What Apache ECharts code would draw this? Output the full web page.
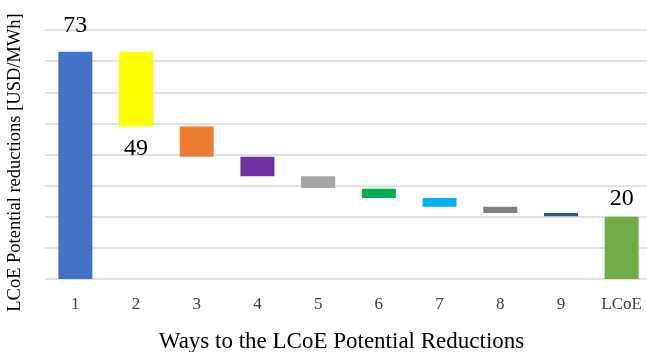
<!DOCTYPE html>
<html><head><meta charset="utf-8">
<script src="https://cdn.jsdelivr.net/npm/echarts@6/dist/echarts.min.js"></script>
<style>html,body{margin:0;padding:0;background:#fff}#c{width:647px;height:352px}</style>
</head><body><div id="c"></div>
<script>
const categories = ['1','2','3','4','5','6','7','8','9','LCoE'];
const baseValues = [0, 49, 39.3, 33, 29.2, 26, 23.2, 21.2, 20.2, 0];
const barHeights = [73, 24, 9.7, 6.3, 3.8, 3, 2.8, 2, 1, 20];
const barColors = ['#4472C4','#FFFF00','#ED7D31','#7030A0','#A5A5A5','#00B050','#00B0F0','#7F7F7F','#2F5597','#70AD47'];
const labelTexts = {0: '73', 1: '49', 9: '20'};

const font = 'Liberation Serif';
const chart = echarts.init(document.getElementById('c'), null, {renderer: 'canvas'});
chart.setOption({
  animation: false,
  grid: {left: 45, right: -5, top: 30, bottom: 73, containLabel: false, outerBoundsMode: 'none'},
  xAxis: {
    type: 'category', data: categories,
    axisLine: {show: false}, axisTick: {show: false},
    axisLabel: {color: '#404040', fontFamily: font, fontSize: 17, margin: 17},
    name: 'Ways to the LCoE Potential Reductions', nameLocation: 'middle', nameGap: 51,
    nameTextStyle: {color: '#000', fontFamily: font, fontSize: 23, padding: [0, 14, 0, 0]}
  },
  yAxis: {
    type: 'value', min: 0, max: 80, interval: 10,
    axisLabel: {show: false}, axisLine: {show: false}, axisTick: {show: false},
    splitLine: {lineStyle: {color: '#d9d9d9', width: 1.5}},
    name: 'LCoE Potential reductions [USD/MWh]', nameLocation: 'middle', nameGap: 20,
    nameTextStyle: {color: '#000', fontFamily: font, fontSize: 18.5, padding: [0, 16, 0, 0]}
  },
  series: [
    {type: 'bar', stack: 'w', barWidth: 34, silent: true,
     itemStyle: {color: 'transparent'}, data: baseValues},
    {type: 'bar', stack: 'w', barWidth: 34,
     data: barHeights.map((v, i) => {
       const item = {value: v, itemStyle: {color: barColors[i]}};
       if (labelTexts[i] !== undefined) {
         item.label = {show: true, position: i === 1 ? 'bottom' : 'top',
           distance: i === 1 ? 10 : (i === 0 ? 14 : 6),
           formatter: labelTexts[i], color: '#000', fontFamily: font, fontSize: 24};
       }
       return item;
     })}
  ]
});
</script></body></html>
